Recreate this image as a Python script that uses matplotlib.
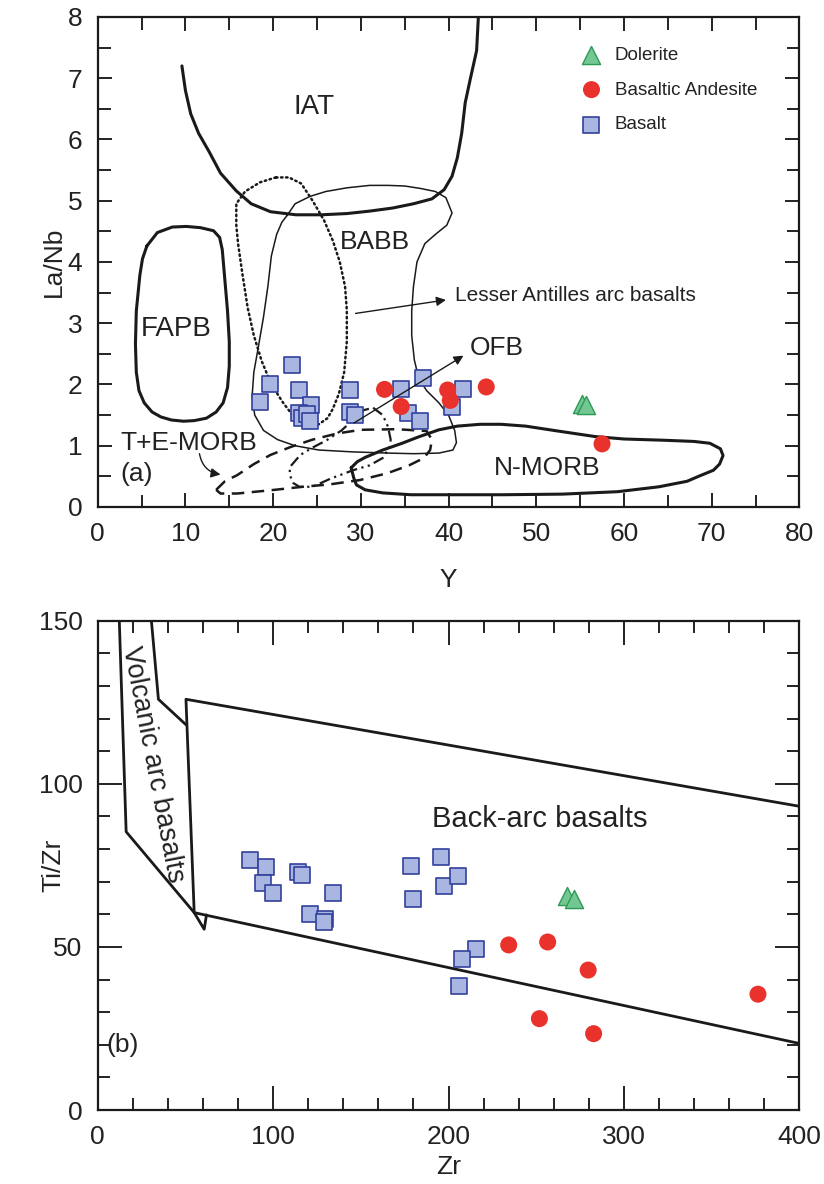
import matplotlib.pyplot as plt
from matplotlib.ticker import MultipleLocator

plt.rcParams['font.family'] = ['Liberation Sans', 'DejaVu Sans']
plt.rcParams['text.color'] = '#222222'
plt.rcParams['axes.labelcolor'] = '#222222'
plt.rcParams['xtick.color'] = '#222222'
plt.rcParams['ytick.color'] = '#222222'

# ---- panel (a): Y vs La/Nb ----
basalt_y = [22.1, 19.6, 18.5, 23.0, 24.3, 23.0, 23.3, 23.9, 24.2, 28.8, 28.8, 29.3,
            34.6, 37.1, 35.4, 36.8, 41.6, 40.4]
basalt_lanb = [2.31, 2.00, 1.71, 1.91, 1.66, 1.54, 1.46, 1.51, 1.40, 1.91, 1.55, 1.50,
               1.93, 2.11, 1.54, 1.40, 1.92, 1.63]
andesite_y = [32.7, 34.6, 39.9, 40.2, 44.3, 57.5]
andesite_lanb = [1.92, 1.64, 1.91, 1.74, 1.96, 1.03]
dolerite_y = [55.2, 55.7]
dolerite_lanb = [1.68, 1.66]

# field outlines (Y, La/Nb)
iat = [(9.6, 7.2), (10.0, 6.8), (10.6, 6.42), (11.5, 6.1), (12.7, 5.8), (14.0, 5.45),
       (15.8, 5.16), (17.5, 4.95), (19.7, 4.82), (22.6, 4.77), (25.5, 4.77), (28.4, 4.79),
       (31.0, 4.83), (33.6, 4.88), (36.0, 4.95), (38.1, 5.03), (39.5, 5.18), (40.4, 5.4),
       (41.0, 5.7), (41.5, 6.1), (41.9, 6.6), (42.5, 7.0), (43.2, 7.45), (43.4, 8.0)]
babb = [(21.6, 4.76), (22.5, 4.95), (24.2, 5.07), (26.0, 5.15), (28.4, 5.21), (31.0, 5.25),
        (33.1, 5.25), (35.0, 5.24), (36.8, 5.2), (38.5, 5.15), (39.7, 5.05), (40.4, 4.8),
        (39.8, 4.6), (38.5, 4.45), (37.3, 4.3), (36.4, 4.0), (36.0, 3.6), (35.8, 3.2),
        (35.8, 2.8), (36.1, 2.4), (36.6, 2.1), (37.5, 1.9), (38.9, 1.7), (40.0, 1.5),
        (40.7, 1.25), (40.9, 1.05), (40.5, 0.93), (38.9, 0.88), (36.0, 0.87), (33.1, 0.88),
        (29.0, 0.9), (25.2, 0.93), (22.5, 1.0), (20.5, 1.1), (18.9, 1.25), (17.9, 1.5),
        (17.6, 1.8), (17.8, 2.2), (18.3, 2.6), (18.9, 3.1), (19.4, 3.6), (19.8, 4.1),
        (20.4, 4.45), (21.0, 4.65), (21.6, 4.76)]
lesser_antilles = [(20.3, 5.38), (18.5, 5.3), (16.8, 5.15), (15.8, 4.95), (15.8, 4.6),
                   (16.0, 4.3), (16.5, 3.8), (17.1, 3.25), (17.8, 2.8), (18.7, 2.38),
                   (19.8, 2.0), (21.1, 1.71), (22.2, 1.5), (23.2, 1.38), (24.3, 1.33),
                   (25.2, 1.35), (26.2, 1.45), (26.8, 1.6), (27.5, 1.85), (28.1, 2.2),
                   (28.4, 2.7), (28.4, 3.22), (28.2, 3.6), (27.6, 4.0), (26.8, 4.35),
                   (25.8, 4.68), (24.5, 5.0), (23.2, 5.28), (21.8, 5.38), (20.3, 5.38)]
fapb = [(5.6, 4.26), (6.8, 4.48), (8.5, 4.57), (10.1, 4.58), (11.7, 4.56), (13.2, 4.51),
        (13.9, 4.4), (14.2, 4.2), (14.5, 3.7), (14.8, 3.2), (15.0, 2.7), (15.0, 2.3),
        (14.8, 1.95), (14.3, 1.7), (13.5, 1.55), (12.4, 1.45), (11.0, 1.41), (9.8, 1.40),
        (8.4, 1.42), (7.2, 1.47), (6.2, 1.55), (5.3, 1.7), (4.7, 1.9), (4.4, 2.2),
        (4.3, 2.66), (4.4, 3.2), (4.8, 3.78), (5.1, 4.05), (5.6, 4.26)]
nmorb = [(28.9, 0.64), (29.6, 0.74), (30.5, 0.81), (32.5, 0.93), (34.7, 1.04), (36.5, 1.14),
         (38.9, 1.26), (41.0, 1.32), (43.6, 1.35), (46.0, 1.35), (48.8, 1.32), (52.0, 1.25),
         (56.7, 1.15), (60.0, 1.11), (64.5, 1.09), (68.0, 1.07), (69.8, 1.04), (71.0, 0.95),
         (71.3, 0.84), (70.9, 0.7), (70.2, 0.6), (68.5, 0.5), (67.2, 0.42), (64.0, 0.33),
         (59.3, 0.25), (53.0, 0.21), (46.2, 0.2), (40.0, 0.2), (35.7, 0.2), (32.5, 0.23),
         (30.5, 0.28), (29.5, 0.36), (29.2, 0.47), (28.9, 0.64)]
te_morb = [(13.5, 0.28), (14.5, 0.42), (15.9, 0.52), (17.8, 0.7), (19.7, 0.85), (22.0, 0.98),
           (24.5, 1.1), (27.3, 1.2), (30.0, 1.26), (34.1, 1.27), (37.5, 1.24), (38.1, 1.1),
           (37.9, 0.93), (37.2, 0.8), (35.5, 0.68), (33.0, 0.55), (29.9, 0.44), (26.5, 0.37),
           (23.4, 0.33), (19.5, 0.27), (15.9, 0.22), (14.0, 0.22), (13.5, 0.28)]
ofb = [(31.4, 1.62), (32.5, 1.5), (33.1, 1.31), (33.4, 1.1), (33.3, 0.98), (32.5, 0.8),
       (31.0, 0.68), (29.1, 0.6), (26.5, 0.46), (24.5, 0.33), (23.0, 0.33), (22.3, 0.39),
       (21.9, 0.52), (21.9, 0.65), (23.1, 0.85), (24.5, 0.97), (26.1, 1.09), (27.8, 1.25),
       (29.1, 1.42), (30.3, 1.58), (31.4, 1.62)]

# ---- panel (b): Zr vs Ti/Zr ----
basalt_zr = [86.9, 96.1, 94.0, 100.0, 113.9, 116.5, 134.0, 120.9, 129.3, 128.8,
             178.5, 179.8, 195.5, 197.4, 205.5, 215.7, 207.9, 206.0]
basalt_tizr = [76.7, 74.5, 69.6, 66.5, 73.1, 71.9, 66.5, 60.2, 58.4, 57.6,
               74.9, 64.7, 77.5, 68.8, 71.6, 49.5, 46.4, 38.1]
andesite_zr = [234.3, 256.5, 279.6, 376.4, 251.8, 282.7]
andesite_tizr = [50.6, 51.5, 42.9, 35.5, 28.0, 23.4]
dolerite_zr = [267.5, 271.5]
dolerite_tizr = [65.7, 64.8]

vab_left = [(12.3, 150), (16.2, 85.3), (55.0, 60.5), (60.7, 55.4), (62.0, 59.8)]
vab_right = [(30.6, 150), (34.6, 125.9), (50.3, 118.1)]
backarc = [(55.0, 60.5), (50.3, 125.9), (400, 93.1)]
backarc_low = [(55.0, 60.5), (400, 20.4)]

sq_face, sq_edge = '#a9b6e2', '#33419c'
red = '#e8322b'
tri_face, tri_edge = '#72c792', '#2f9a57'
ink = '#1a1a1a'

fig = plt.figure(figsize=(8.24, 11.84), dpi=100)
ax = fig.add_axes([0.1186, 0.5718, 0.8515, 0.4139])
bx = fig.add_axes([0.1186, 0.0625, 0.8515, 0.4133])


def outline(axis, pts, **kw):
    xs, ys = zip(*pts)
    axis.plot(xs, ys, color=ink, solid_capstyle='round', **kw)


outline(ax, iat, lw=2.2)
outline(ax, fapb, lw=2.2)
outline(ax, nmorb, lw=2.2)
outline(ax, babb, lw=1.1)
outline(ax, lesser_antilles, lw=1.8, linestyle=(0, (0.6, 1.4)), dash_capstyle='round')
outline(ax, te_morb, lw=1.8, linestyle=(0, (5, 3)))
outline(ax, ofb, lw=1.6, linestyle=(0, (5, 2, 1, 2, 1, 2)))

sq = ax.scatter(basalt_y, basalt_lanb, s=140, marker='s', facecolor=sq_face,
                edgecolor=sq_edge, linewidth=1.2, zorder=3)
ci = ax.scatter(andesite_y, andesite_lanb, s=150, marker='o', facecolor=red,
                edgecolor='none', zorder=4)
tr = ax.scatter(dolerite_y, dolerite_lanb, s=170, marker='^', facecolor=tri_face,
                edgecolor=tri_edge, linewidth=1.0, zorder=4)

ax.legend([tr, ci, sq], ['Dolerite', 'Basaltic Andesite', 'Basalt'], loc='upper left',
          bbox_to_anchor=(0.677, 0.955), frameon=False, fontsize=13.5, handlelength=1.2,
          handletextpad=0.65, labelspacing=0.95, borderaxespad=0, scatterpoints=1)

ax.text(24.7, 6.53, 'IAT', fontsize=20, ha='center', va='center')
ax.text(31.6, 4.32, 'BABB', fontsize=19, ha='center', va='center')
ax.text(8.9, 2.91, 'FAPB', fontsize=20, ha='center', va='center')
ax.text(42.4, 2.6, 'OFB', fontsize=19, ha='left', va='center')
ax.text(2.6, 1.04, 'T+E-MORB', fontsize=19, ha='left', va='center')
ax.text(2.6, 0.54, '(a)', fontsize=19, ha='left', va='center')
ax.text(51.2, 0.64, 'N-MORB', fontsize=19, ha='center', va='center')
ax.text(40.7, 3.46, 'Lesser Antilles arc basalts', fontsize=15, ha='left', va='center')

arrow = dict(arrowstyle='-|>', color=ink, lw=1.0, mutation_scale=14, shrinkA=0, shrinkB=0)
ax.annotate('', xy=(39.7, 3.38), xytext=(29.4, 3.16), arrowprops=arrow)
ax.annotate('', xy=(41.7, 2.47), xytext=(29.2, 1.37), arrowprops=arrow)
ax.annotate('', xy=(14.0, 0.53), xytext=(11.6, 0.87),
            arrowprops=dict(arrow, connectionstyle='arc3,rad=0.35'))

ax.set_xlim(0, 80)
ax.set_ylim(0, 8)
ax.xaxis.set_major_locator(MultipleLocator(10))
ax.xaxis.set_minor_locator(MultipleLocator(5))
ax.yaxis.set_major_locator(MultipleLocator(1))
ax.yaxis.set_minor_locator(MultipleLocator(0.5))
ax.tick_params(which='both', direction='in', top=True, right=True, width=1.4,
               labelsize=19, pad=11)
ax.tick_params(which='major', length=10)
ax.tick_params(which='minor', length=9)
ax.set_xlabel('Y', fontsize=19)
ax.set_ylabel('La/Nb', fontsize=19)
ax.xaxis.set_label_coords(0.5, -0.125)
ax.yaxis.set_label_coords(-0.046, 0.5)

# ---- panel (b) ----
outline(bx, vab_left, lw=2.0)
outline(bx, vab_right, lw=2.0)
outline(bx, backarc, lw=2.0)
outline(bx, backarc_low, lw=2.0)

bx.scatter(basalt_zr, basalt_tizr, s=140, marker='s', facecolor=sq_face,
           edgecolor=sq_edge, linewidth=1.2, zorder=3)
bx.scatter(andesite_zr, andesite_tizr, s=150, marker='o', facecolor=red,
           edgecolor='none', zorder=4)
bx.scatter(dolerite_zr, dolerite_tizr, s=170, marker='^', facecolor=tri_face,
           edgecolor=tri_edge, linewidth=1.0, zorder=4)

bx.text(252, 89.1, 'Back-arc basalts', fontsize=21, ha='center', va='center')
bx.text(31.5, 106, 'Volcanic arc basalts', fontsize=19.5, ha='center', va='center',
        rotation=-79, rotation_mode='anchor')
bx.text(5, 20, '(b)', fontsize=19, ha='left', va='center')

bx.set_xlim(0, 400)
bx.set_ylim(0, 150)
bx.xaxis.set_major_locator(MultipleLocator(100))
bx.xaxis.set_minor_locator(MultipleLocator(20))
bx.yaxis.set_major_locator(MultipleLocator(50))
bx.yaxis.set_minor_locator(MultipleLocator(10))
bx.tick_params(which='both', direction='in', top=True, right=True, width=1.4,
               labelsize=19, pad=11)
bx.tick_params(which='major', length=17)
bx.tick_params(which='minor', length=8.5)
bx.set_xlabel('Zr', fontsize=19)
bx.set_ylabel('Ti/Zr', fontsize=19)
bx.xaxis.set_label_coords(0.5, -0.092)
bx.yaxis.set_label_coords(-0.046, 0.5)

for a in (ax, bx):
    for sp in a.spines.values():
        sp.set_linewidth(1.6)
        sp.set_color(ink)

fig.savefig('out.png', dpi=100)
